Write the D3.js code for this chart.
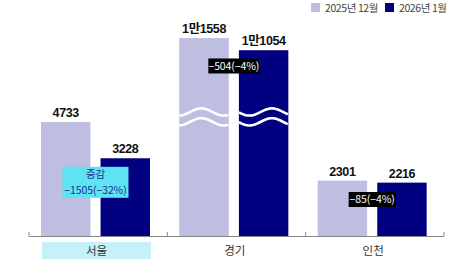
<!DOCTYPE html>
<html>
<head>
<meta charset="utf-8">
<script src="https://cdn.jsdelivr.net/npm/d3@7"></script>
<style>
  body { margin: 0; background: #fff; }
  svg { display: block; font-family: "Liberation Sans", "Noto Sans CJK KR", sans-serif; }
</style>
</head>
<body>
<svg></svg>
<script>
let regions   = ["서울", "경기", "인천"],
    series    = ["2025년 12월", "2026년 1월"],
    dec2025   = [4733, 11558, 2301],
    jan2026   = [3228, 11054, 2216],
    valueText = [["4733", "3228"], ["1만1558", "1만1054"], ["2301", "2216"]],
    changes   = [["증감", "−1505(−32%)"], ["−504(−4%)"], ["−85(−4%)"]],
    breakCut  = [0, 3340, 0];   // 경기 bars drawn with a broken axis

let width = 473, height = 264, baseY = 236,
    colors = ["#bdbee0", "#000080"];

let svg = d3.select("svg").attr("width", width).attr("height", height);

let x0 = d3.scaleBand().domain(regions).range([29, 444]).padding(0),
    x1 = d3.scaleBand().domain(series).range([12, 121]).paddingInner(0.17),
    y  = d3.scaleLinear().domain([0, 9800]).range([baseY, 0]);

let rows = regions.map((r, i) => ({
  region: r, i: i,
  vals: [dec2025[i], jan2026[i]].map((v, j) => ({ s: series[j], v: v, shown: v - breakCut[i], label: valueText[i][j] }))
}));

let pairMid = x1(series[0]) + (x1(series[1]) + x1.bandwidth() - x1(series[0])) / 2;

// seoul label background
svg.append("rect")
  .attr("x", x0("서울") + x1(series[0]) + 1)
  .attr("y", 242)
  .attr("width", x1(series[1]) + x1.bandwidth() - x1(series[0]))
  .attr("height", 17)
  .attr("fill", "#c6f1f9");

let groups = svg.selectAll("g.grp").data(rows).enter()
  .append("g").attr("class", "grp")
  .attr("transform", d => `translate(${x0(d.region)},0)`);

groups.selectAll("rect").data(d => d.vals).enter()
  .append("rect")
  .attr("x", d => x1(d.s))
  .attr("y", d => y(d.shown))
  .attr("width", x1.bandwidth())
  .attr("height", d => baseY - y(d.shown))
  .attr("fill", (d, j) => colors[j]);

groups.selectAll("text.val").data(d => d.vals).enter()
  .append("text").attr("class", "val")
  .attr("x", d => x1(d.s) + x1.bandwidth() / 2)
  .attr("y", d => y(d.shown) - 5)
  .attr("text-anchor", "middle")
  .style("font-size", "12.5px")
  .style("font-weight", "bold")
  .style("letter-spacing", "-0.4px")
  .attr("fill", "#111")
  .text(d => d.label);

// wave break on 경기, one wave pair per bar
let wave = (left, y0, peakAt) => {
  let pts = d3.range(0, x1.bandwidth() + 0.5, 1).map(dx =>
    [left + dx, y0 - 3.6 * Math.cos((dx - peakAt) / 45 * 2 * Math.PI)]);
  return d3.line()(pts);
};
let peaks = [22, 33];
series.forEach((s, j) => {
  [5150, 4740].forEach(v => {
    svg.append("path")
      .attr("d", wave(x0("경기") + x1(s), y(v), peaks[j]))
      .attr("fill", "none")
      .attr("stroke", "#fff")
      .attr("stroke-width", 2.6);
  });
});

// axis
let axis = d3.axisBottom(x0).tickSize(0).tickFormat("");
svg.append("g").attr("transform", `translate(0,${baseY})`).call(axis)
  .call(g => g.select(".domain").attr("stroke", "#888").attr("d", "M29,0.5H444"));
d3.range(regions.length + 1).forEach(k => {
  let tx = 29 + k * x0.step();
  svg.append("line").attr("x1", tx).attr("x2", tx).attr("y1", baseY - 4).attr("y2", baseY + 0.5)
    .attr("stroke", "#888");
});

svg.selectAll("text.cat").data(regions).enter()
  .append("text").attr("class", "cat")
  .attr("x", d => x0(d) + pairMid + 1)
  .attr("y", 255)
  .attr("text-anchor", "middle")
  .style("font-family", "'Noto Sans CJK KR'")
  .style("font-size", "11.5px")
  .attr("fill", "#333")
  .text(d => d);

// change annotations
let boxes = [
  { w: 66, h: 31, fill: "#5fe2f2", color: "#1c2f8f", yv: 2230 },
  { w: 51, h: 15, fill: "#000", color: "#fff", yv: 7060 },
  { w: 47, h: 15, fill: "#000", color: "#fff", yv: 1516 }
];
regions.forEach((r, i) => {
  let b = boxes[i], cx = x0(r) + pairMid, top = y(b.yv) - b.h / 2;
  svg.append("rect").attr("x", cx - b.w / 2).attr("y", top).attr("width", b.w).attr("height", b.h).attr("fill", b.fill);
  changes[i].forEach((t, k) => {
    svg.append("text")
      .attr("x", cx).attr("y", top + 11.5 + k * 15.5)
      .attr("text-anchor", "middle")
      .style("font-family", "'Noto Sans CJK KR'")
      .style("font-size", "10.5px")
      .style("letter-spacing", "-0.1px")
      .attr("fill", b.color)
      .text(t);
  });
});

// legend
let legend = svg.append("g").attr("transform", "translate(311,2)");
let legX = [0, 74];
series.forEach((s, j) => {
  legend.append("rect").attr("x", legX[j]).attr("y", 1).attr("width", 9).attr("height", 9).attr("fill", colors[j]);
  legend.append("text").attr("x", legX[j] + 14).attr("y", 9.5)
    .style("font-family", "'Noto Sans CJK KR'")
    .style("font-size", "10.5px")
    .style("letter-spacing", "-0.4px")
    .attr("fill", "#444")
    .text(s);
});
</script>
</body>
</html>
